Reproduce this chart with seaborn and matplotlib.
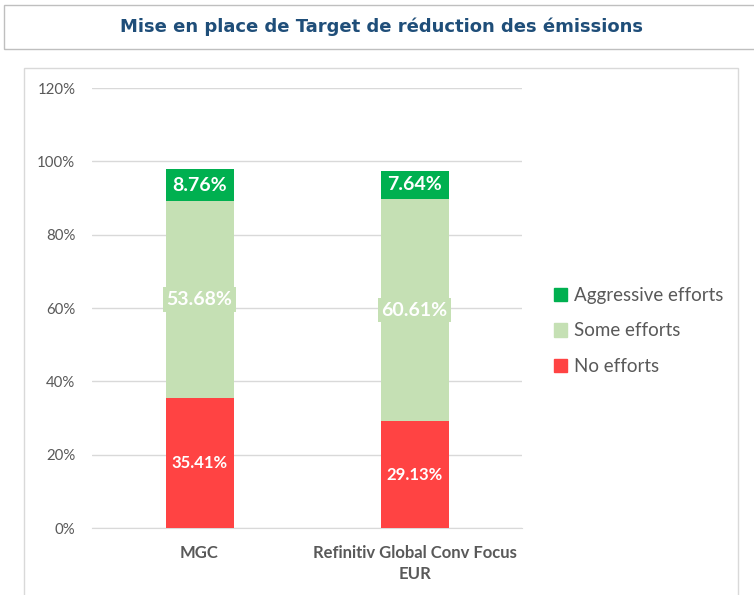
import numpy as np
import pandas as pd
import seaborn as sns
import matplotlib.pyplot as plt
from matplotlib.patches import Rectangle
from matplotlib.ticker import PercentFormatter

# Data
categories = ["MGC", "Refinitiv Global Conv Focus\nEUR"]
no_efforts = [35.41, 29.13]
some_efforts = [53.68, 60.61]
aggressive_efforts = [8.76, 7.64]

series_names = ["Aggressive efforts", "Some efforts", "No efforts"]
colors = {"No efforts": "#FF4343", "Some efforts": "#C5E0B4", "Aggressive efforts": "#00B050"}

sns.set_style("white")
plt.rcParams['font.family'] = ['Lato', 'DejaVu Sans']

df = pd.DataFrame({
    "cat": categories,
    "No efforts": np.array(no_efforts) / 100,
    "Some efforts": np.array(some_efforts) / 100,
    "Aggressive efforts": np.array(aggressive_efforts) / 100,
})
df["cum_no"] = df["No efforts"]
df["cum_some"] = df["cum_no"] + df["Some efforts"]
df["cum_aggr"] = df["cum_some"] + df["Aggressive efforts"]

fig = plt.figure(figsize=(7.54, 5.95), dpi=100)
ax = fig.add_axes([92 / 754, 1 - 528 / 595, 430 / 754, 440 / 595])

# stacked bars: draw cumulative totals from top down
width = 68 / 215
sns.barplot(data=df, x="cat", y="cum_aggr", color=colors["Aggressive efforts"], width=width,
            saturation=1, ax=ax, zorder=3)
sns.barplot(data=df, x="cat", y="cum_some", color=colors["Some efforts"], width=width,
            saturation=1, ax=ax, zorder=3)
sns.barplot(data=df, x="cat", y="cum_no", color=colors["No efforts"], width=width,
            saturation=1, ax=ax, zorder=3)
for p in ax.patches:
    p.set_edgecolor("none")
    p.set_linewidth(0)

# labels
for i, row in df.iterrows():
    ax.text(i, row["cum_no"] / 2, f"{row['No efforts'] * 100:.2f}%", ha="center", va="center",
            color="white", fontsize=12, fontweight="bold", zorder=5)
    ax.text(i, row["cum_no"] + row["Some efforts"] / 2, f"{row['Some efforts'] * 100:.2f}%", ha="center",
            va="center", color="white", fontsize=14, fontweight="bold", zorder=5,
            bbox=dict(boxstyle="square,pad=0.2", fc=colors["Some efforts"], ec="none"))
    ax.text(i, row["cum_some"] + row["Aggressive efforts"] / 2, f"{row['Aggressive efforts'] * 100:.2f}%",
            ha="center", va="center", color="white", fontsize=14, fontweight="bold", zorder=5)

ax.set_ylim(0, 1.2)
ax.set_yticks(np.arange(0, 1.21, 0.2))
ax.yaxis.set_major_formatter(PercentFormatter(1.0, decimals=0))
ax.set_xlim(-0.5, 1.5)
ax.set_xticks([-0.5, 0.5, 1.5], minor=True)
ax.grid(axis="y", color="#D9D9D9", linewidth=1, zorder=0)
ax.set_axisbelow(True)
for s in ["top", "right", "left"]:
    ax.spines[s].set_visible(False)
ax.spines["bottom"].set_color("#D9D9D9")
ax.set_xlabel("")
ax.set_ylabel("")
ax.tick_params(axis="y", colors="#595959", labelsize=10.8, length=0, pad=12)
ax.tick_params(axis="x", which="major", colors="#595959", labelsize=12, length=0, pad=12)
ax.tick_params(axis="x", which="minor", color="#D9D9D9", length=5, width=1, direction="out")
for lbl in ax.get_xticklabels():
    lbl.set_fontweight("bold")
    lbl.set_linespacing(1.4)

# legend
handles = [Rectangle((0, 0), 1, 1, color=colors[n]) for n in series_names]
leg = fig.legend(handles, series_names, loc="center left", bbox_to_anchor=(537 / 754, 1 - 331 / 595),
                 frameon=False, fontsize=13.5, handlelength=0.7, handleheight=0.7, handletextpad=0.35,
                 labelspacing=1.0)
for t in leg.get_texts():
    t.set_color("#595959")

# chart frame and title box
fig.add_artist(Rectangle((24 / 754, -0.01), 714 / 754, 1 - 68 / 595 + 0.01, transform=fig.transFigure,
                         fill=False, ec="#D9D9D9", lw=1))
fig.add_artist(Rectangle((4 / 754, 1 - 49 / 595), 1.0, 44 / 595, transform=fig.transFigure,
                         fill=False, ec="#BFBFBF", lw=1))
fig.text(382 / 754, 1 - 27 / 595, "Mise en place de Target de réduction des émissions", ha="center",
         va="center", fontsize=13, fontweight="bold", color="#1F4E79", family="DejaVu Sans")

fig.savefig("out.png", dpi=100)
